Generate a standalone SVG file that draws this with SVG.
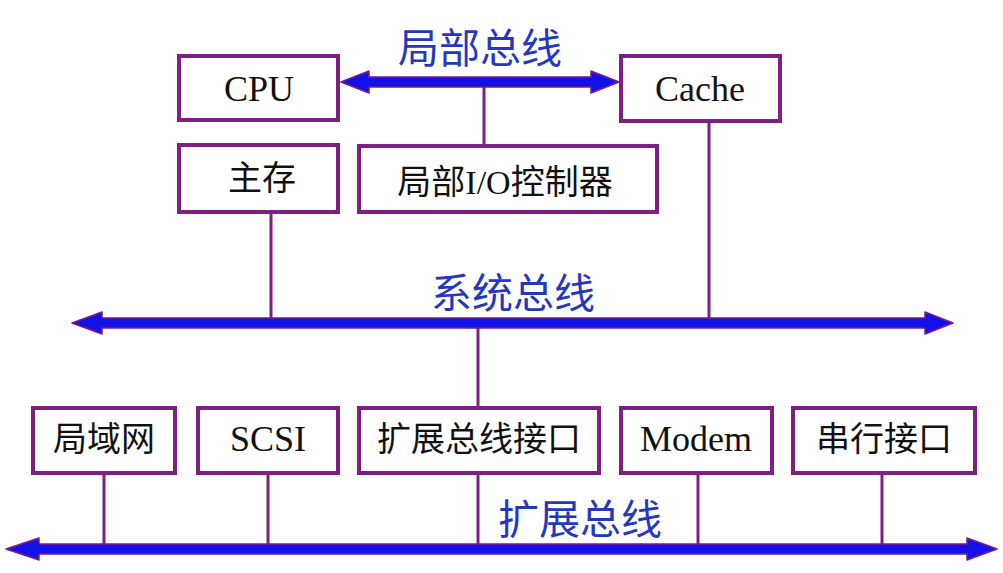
<svg xmlns="http://www.w3.org/2000/svg" width="1003" height="573" viewBox="0 0 1003 573">
<style>
.box{fill:#fff;stroke:#7f1f82;stroke-width:4}
.wire{stroke:#7f1f82;stroke-width:3;fill:none}
.bus{fill:#1212e8;stroke:#7a1a8c;stroke-width:1.5;stroke-linejoin:round}
.t{font-family:"Liberation Serif","Noto Sans CJK SC",serif;font-size:34px;fill:#111;text-anchor:middle;dominant-baseline:central}
.l{font-size:36px}
.bl{font-family:"Noto Sans CJK SC","Liberation Sans",sans-serif;font-size:41px;fill:#2536c2;text-anchor:middle;dominant-baseline:central}
</style>
<rect width="1003" height="573" fill="#fff"/>
<g id="connectors">
<line class="wire" x1="484" y1="82" x2="484" y2="146"/>
<line class="wire" x1="709" y1="121" x2="709" y2="323"/>
<line class="wire" x1="271" y1="212" x2="271" y2="323"/>
<line class="wire" x1="478" y1="323" x2="478" y2="408"/>
<line class="wire" x1="104" y1="473" x2="104" y2="549"/>
<line class="wire" x1="268" y1="473" x2="268" y2="549"/>
<line class="wire" x1="478" y1="473" x2="478" y2="549"/>
<line class="wire" x1="698" y1="473" x2="698" y2="549"/>
<line class="wire" x1="882" y1="473" x2="882" y2="549"/>
<polygon id="local-bus" class="bus" points="341,82 369,71 369,77 591,77 591,71 619,82 591,93 591,87 369,87 369,93"/>
<polygon id="system-bus" class="bus" points="72,323 102,312 102,318 925,318 925,312 953,323 925,334 925,328 102,328 102,334"/>
<polygon id="expansion-bus" class="bus" points="6,549 39,538 39,544 967,544 967,538 997,549 967,560 967,554 39,554 39,560"/>
</g>
<g id="label-local"><text class="bl" x="480" y="45">局部总线</text></g>
<g id="label-system"><text class="bl" x="513" y="290">系统总线</text></g>
<g id="label-expansion"><text class="bl" x="580" y="516">扩展总线</text></g>
<g id="cpu"><rect class="box" x="179" y="56" width="159" height="64"/><text class="t l" x="259" y="89">CPU</text></g>
<g id="cache"><rect class="box" x="621" y="56" width="159" height="65"/><text class="t l" x="700" y="89">Cache</text></g>
<g id="main-memory"><rect class="box" x="179" y="145" width="159" height="67"/><text class="t" x="262" y="178">主存</text></g>
<g id="local-io"><rect class="box" x="359" y="146" width="298" height="66"/><text class="t" x="505" y="182">局部I/O控制器</text></g>
<g id="lan"><rect class="box" x="33" y="408" width="142" height="65"/><text class="t" x="104" y="439">局域网</text></g>
<g id="scsi"><rect class="box" x="198" y="408" width="140" height="65"/><text class="t l" x="268" y="439">SCSI</text></g>
<g id="ext-if"><rect class="box" x="359" y="408" width="240" height="65"/><text class="t" x="479" y="439">扩展总线接口</text></g>
<g id="modem"><rect class="box" x="621" y="408" width="151" height="65"/><text class="t l" x="696" y="439">Modem</text></g>
<g id="serial"><rect class="box" x="793" y="408" width="182" height="65"/><text class="t" x="884" y="439">串行接口</text></g>
</svg>
